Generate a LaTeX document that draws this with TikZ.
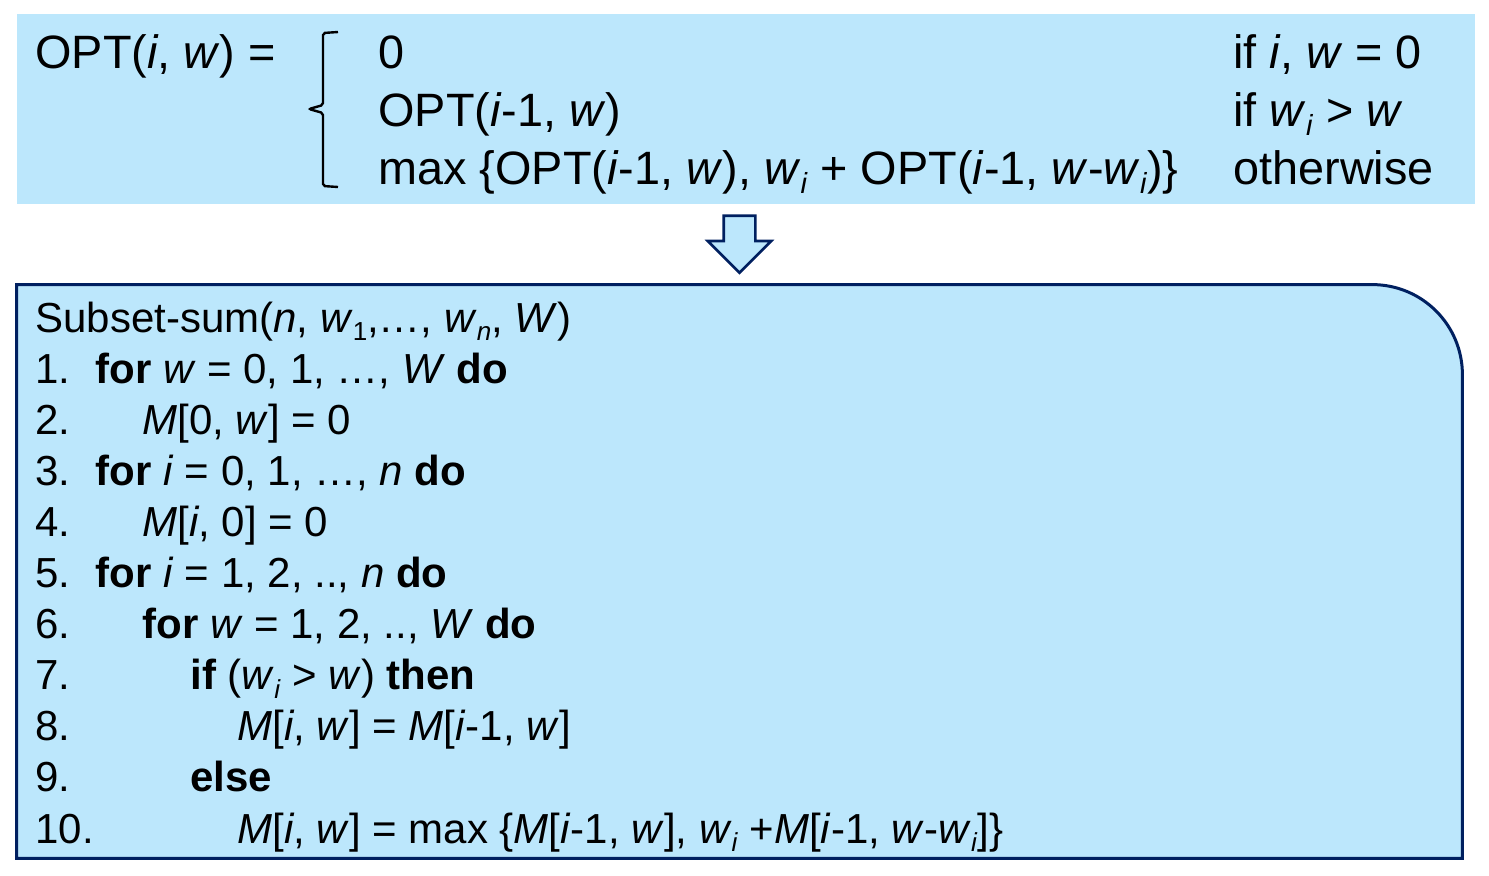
\documentclass[tikz,border=0pt]{standalone}
\usepackage{fontspec}
\setmainfont{Liberation Sans}
\usepackage{tikz}
\usetikzlibrary{shapes.arrows, positioning, calc}
\definecolor{paleblue}{RGB}{188,231,252}
\definecolor{navy}{RGB}{0,32,96}
\tikzstyle{formula} = [rectangle, minimum width=729pt, minimum height=95pt, fill=paleblue, inner sep=0]
\tikzstyle{codebox} = [rectangle, minimum width=722.5pt, minimum height=286.5pt, inner sep=0]
\tikzstyle{bigline} = [anchor=base west, inner sep=0, font=\fontsize{23.4}{28}\selectfont]
\tikzstyle{codeline} = [anchor=base west, inner sep=0, font=\fontsize{21}{25}\selectfont]
\tikzstyle{downarrow} = [single arrow, shape border rotate=270, draw=navy, fill=paleblue, line width=1.3pt, minimum height=28.5pt, inner sep=7.25pt, single arrow head extend=8pt, single arrow head indent=0pt]
\newcommand{\lo}[1]{\raisebox{-0.4ex}{\scalebox{0.62}{#1}}}
\newcommand{\vi}{\textit{i}}
\newcommand{\vw}{\textit{w}}
\newcommand{\wi}{\textit{w}\lo{\textit{i}}}
\newcommand{\vM}{\textit{M}}

\begin{document}
\begin{tikzpicture}[x=0.5pt, y=-0.5pt]
\useasboundingbox (0,0) rectangle (1489,875);
% recurrence
\node (f) [formula] at (746,109) {};
\node (opt) [bigline] at (35,68) {OPT(\vi, \vw) =};
\node (c1) [bigline] at (378,68) {0};
\node (c2) [below=29pt of c1.base west, bigline] {OPT(\vi-1, \vw)};
\node (c3) [below=29pt of c2.base west, bigline] {max \{OPT(\vi-1, \vw), \wi{} + OPT(\vi-1, \vw-\wi)\}};
\node (k1) [bigline] at (1233,68) {if \vi, \vw{} = 0};
\node (k2) [below=29pt of k1.base west, bigline] {if \wi{} > \vw};
\node (k3) [below=29pt of k2.base west, bigline] {otherwise};
\draw[line width=1.2pt, rounded corners=1pt] (338,32) -- (323,33) -- (323,105) -- (309,109) -- (323,113) -- (323,186) -- (338,187);
% algorithm
\node (code) [codebox] at (739.5,571.5) {};
\draw[navy, line width=1.5pt, fill=paleblue] (code.south west) -- (code.north west) -- ($(code.north east)+(-90,0)$) arc[start angle=90, end angle=0, radius=45pt] -- (code.south east) -- cycle;
\node (arr) [downarrow, anchor=tip] at ($(code.north)+(0,-10)$) {};
\node (l0) [codeline] at (35,332) {Subset-sum(\textit{n}, \vw\lo{1},…, \vw\lo{\textit{n}}, \textit{W})};
\node (l1) [below=25.55pt of l0.base west, codeline] {\makebox[30pt][l]{1.}\textbf{for} \vw{} = 0, 1, …, \textit{W} \textbf{do}};
\node (l2) [below=25.55pt of l1.base west, codeline] {\makebox[53.5pt][l]{2.}\vM[0, \vw] = 0};
\node (l3) [below=25.55pt of l2.base west, codeline] {\makebox[30pt][l]{3.}\textbf{for} \vi{} = 0, 1, …, \textit{n} \textbf{do}};
\node (l4) [below=25.55pt of l3.base west, codeline] {\makebox[53.5pt][l]{4.}\vM[\vi, 0] = 0};
\node (l5) [below=25.55pt of l4.base west, codeline] {\makebox[30pt][l]{5.}\textbf{for} \vi{} = 1, 2, .., \textit{n} \textbf{do}};
\node (l6) [below=25.55pt of l5.base west, codeline] {\makebox[53.5pt][l]{6.}\textbf{for} \vw{} = 1, 2, .., \textit{W} \textbf{do}};
\node (l7) [below=25.55pt of l6.base west, codeline] {\makebox[77.5pt][l]{7.}\textbf{if} (\wi{} > \vw) \textbf{then}};
\node (l8) [below=25.55pt of l7.base west, codeline] {\makebox[101pt][l]{8.}\vM[\vi, \vw] = \vM[\vi-1, \vw]};
\node (l9) [below=25.55pt of l8.base west, codeline] {\makebox[77.5pt][l]{9.}\textbf{else}};
\node (l10) [below=25.55pt of l9.base west, codeline] {\makebox[101pt][l]{10.}\vM[\vi, \vw] = max \{\vM[\vi-1, \vw], \wi{} +\vM[\vi-1, \vw-\wi]\}};
\end{tikzpicture}
\end{document}
